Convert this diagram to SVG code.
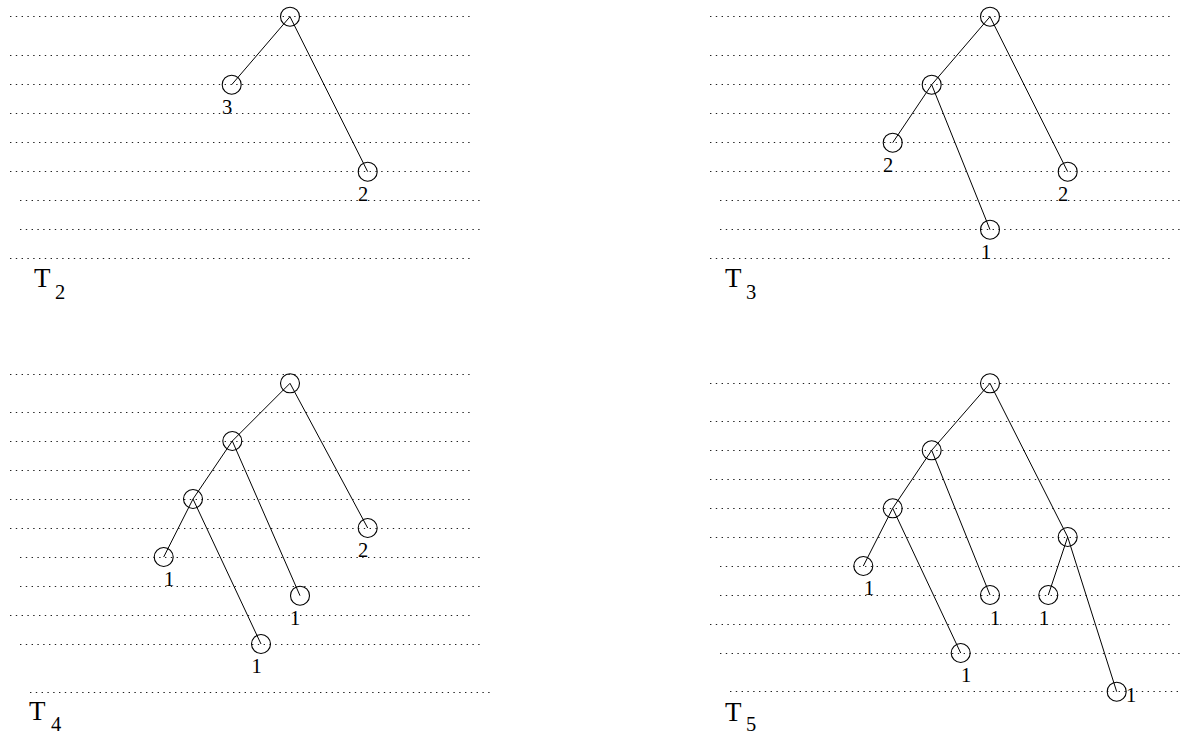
<svg xmlns="http://www.w3.org/2000/svg" width="1181" height="737" viewBox="0 0 1181 737">
<style>
.dot{stroke:#222;stroke-width:1;stroke-dasharray:1.4 4.4;fill:none}
.edge{stroke:#000;stroke-width:1;fill:none}
.n{stroke:#000;stroke-width:1.1;fill:none}
.lb{font-family:"Liberation Serif","Times New Roman",serif;font-size:20.5px;fill:#000;text-anchor:middle}
.tt{font-family:"Liberation Serif","Times New Roman",serif;font-size:27px;fill:#000}
.ts{font-family:"Liberation Serif","Times New Roman",serif;font-size:20.5px;fill:#000}
</style>
<rect width="1181" height="737" fill="#fff"/>
<g id="grid">
<path class="dot" d="M10 16.5H472M10 55.5H472M10 84.5H472M10 113.5H472M10 142.5H472M10 171.5H472M20 200.5H482M20 229.5H482M10 258.5H472"/>
<path class="dot" d="M710 16.5H1172M710 55.5H1172M710 84.5H1172M710 113.5H1172M710 142.5H1172M710 171.5H1172M720 200.5H1181M720 229.5H1181M710 258.5H1172"/>
<path class="dot" d="M10 374.5H472M10 412.5H472M10 441.5H472M10 470.5H472M10 499.5H472M10 528.5H472M20 557.5H482M20 586.5H482M10 615.5H472M20 644.5H482M30 692.5H492"/>
<path class="dot" d="M710 383.5H1172M710 421.5H1172M710 450.5H1172M710 479.5H1172M710 508.5H1172M710 537.5H1172M720 566.5H1181M720 595.5H1181M710 624.5H1172M720 653.5H1181M730 691.5H1181"/>
</g>
<g id="connectors">
<path class="edge" d="M290 16.7L231.7 84.7M290 16.7L367.7 171.7"/>
<path class="edge" d="M990 16.7L931.7 84.7M990 16.7L1067.7 171.7M931.7 84.7L892.7 142.7M931.7 84.7L990 229.7"/>
<path class="edge" d="M290 383.3L232.3 441M290 383.3L367.7 528M232.3 441L193 499M232.3 441L300 595.7M193 499L163.7 557M193 499L261 644"/>
<path class="edge" d="M990 383.3L931.7 450.3M990 383.3L1067.7 537M931.7 450.3L892.7 508.3M931.7 450.3L990 595M892.7 508.3L863.3 566M892.7 508.3L960.7 653M1067.7 537L1048.3 595M1067.7 537L1116.7 691.7"/>
</g>
<g id="t2-root"><circle class="n" cx="290" cy="16.7" r="9.5"/></g>
<g id="t2-a"><circle class="n" cx="231.7" cy="84.7" r="9.5"/><text class="lb" x="227" y="114">3</text></g>
<g id="t2-b"><circle class="n" cx="367.7" cy="171.7" r="9.5"/><text class="lb" x="363" y="200.5">2</text></g>
<g id="t2-label"><text class="tt" x="34" y="287">T</text><text class="ts" x="55" y="299">2</text></g>

<g id="t3-root"><circle class="n" cx="990" cy="16.7" r="9.5"/></g>
<g id="t3-a"><circle class="n" cx="931.7" cy="84.7" r="9.5"/></g>
<g id="t3-b"><circle class="n" cx="892.7" cy="142.7" r="9.5"/><text class="lb" x="888" y="171.5">2</text></g>
<g id="t3-c"><circle class="n" cx="1067.7" cy="171.7" r="9.5"/><text class="lb" x="1063" y="200.5">2</text></g>
<g id="t3-d"><circle class="n" cx="990" cy="229.7" r="9.5"/><text class="lb" x="986" y="258.5">1</text></g>
<g id="t3-label"><text class="tt" x="725" y="287">T</text><text class="ts" x="746" y="299">3</text></g>

<g id="t4-root"><circle class="n" cx="290" cy="383.3" r="9.5"/></g>
<g id="t4-a"><circle class="n" cx="232.3" cy="441" r="9.5"/></g>
<g id="t4-b"><circle class="n" cx="193" cy="499" r="9.5"/></g>
<g id="t4-c"><circle class="n" cx="163.7" cy="557" r="9.5"/><text class="lb" x="169" y="586">1</text></g>
<g id="t4-d"><circle class="n" cx="261" cy="644" r="9.5"/><text class="lb" x="256.7" y="673">1</text></g>
<g id="t4-e"><circle class="n" cx="300" cy="595.7" r="9.5"/><text class="lb" x="295" y="625">1</text></g>
<g id="t4-f"><circle class="n" cx="367.7" cy="528" r="9.5"/><text class="lb" x="363" y="557">2</text></g>
<g id="t4-label"><text class="tt" x="29" y="720">T</text><text class="ts" x="51" y="731">4</text></g>

<g id="t5-root"><circle class="n" cx="990" cy="383.3" r="9.5"/></g>
<g id="t5-a"><circle class="n" cx="931.7" cy="450.3" r="9.5"/></g>
<g id="t5-b"><circle class="n" cx="892.7" cy="508.3" r="9.5"/></g>
<g id="t5-c"><circle class="n" cx="1067.7" cy="537" r="9.5"/></g>
<g id="t5-d"><circle class="n" cx="863.3" cy="566" r="9.5"/><text class="lb" x="869" y="595">1</text></g>
<g id="t5-e"><circle class="n" cx="990" cy="595" r="9.5"/><text class="lb" x="995" y="624.5">1</text></g>
<g id="t5-f"><circle class="n" cx="1048.3" cy="595" r="9.5"/><text class="lb" x="1044" y="624.5">1</text></g>
<g id="t5-g"><circle class="n" cx="960.7" cy="653" r="9.5"/><text class="lb" x="966" y="682">1</text></g>
<g id="t5-h"><circle class="n" cx="1116.7" cy="691.7" r="9.5"/><text class="lb" x="1131" y="702">1</text></g>
<g id="t5-label"><text class="tt" x="725" y="721">T</text><text class="ts" x="746" y="731">5</text></g>
</svg>
